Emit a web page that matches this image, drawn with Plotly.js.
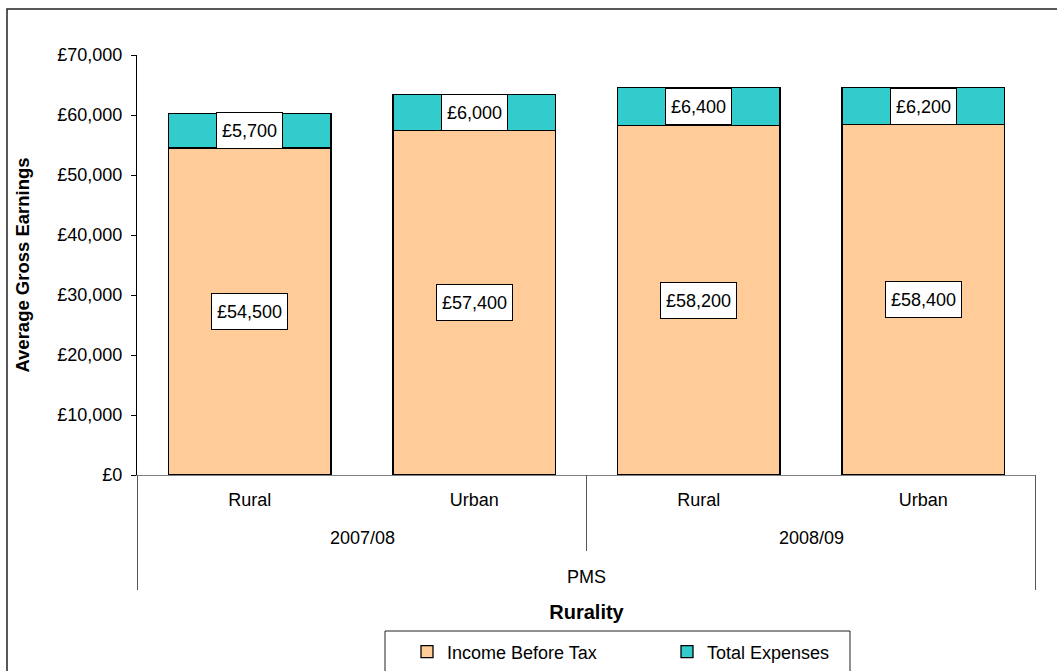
<!DOCTYPE html>
<html>
<head>
<meta charset="utf-8">
<script src="https://cdn.plot.ly/plotly-3.0.1.min.js"></script>
<style>
  html, body { margin: 0; padding: 0; background: #fff; }
  #chart { width: 1057px; height: 671px; }
</style>
</head>
<body>
<div id="chart"></div>
<script>
// ---- data ----
const years = ['2007/08', '2007/08', '2008/09', '2008/09'];
const rurality = ['Rural', 'Urban', 'Rural', 'Urban'];
const incomeBeforeTax = [54500, 57400, 58200, 58400];
const totalExpenses = [5700, 6000, 6400, 6200];
const topLevelLabel = 'PMS';
const seriesNames = ['Income Before Tax', 'Total Expenses'];
const yTickValues = [0, 10000, 20000, 30000, 40000, 50000, 60000, 70000];

// ---- layout geometry (pixels) ----
const W = 1057, H = 671;
const M = { l: 137, r: 21, t: 55, b: 196 };
const plotW = W - M.l - M.r, plotH = H - M.t - M.b;
const px2x = p => (p - M.l) / plotW;
const py2y = p => (H - M.b - p) / plotH;

const FONT = 'Liberation Sans, Arial, sans-serif';
const money = v => '£' + v.toLocaleString('en-GB');

const ids = years.map((y, i) => y + ' ' + rurality[i]);

const traces = [
  {
    type: 'bar', name: seriesNames[0], x: ids, y: incomeBeforeTax,
    marker: { color: '#FFCC99', line: { color: '#000', width: 1.3 } },
    hoverinfo: 'skip'
  },
  {
    type: 'bar', name: seriesNames[1], x: ids, y: totalExpenses,
    marker: { color: '#33CCCC', line: { color: '#000', width: 1.3 } },
    hoverinfo: 'skip'
  }
];

// value labels in white boxes
const annotations = [];
ids.forEach((id, i) => {
  const boxStyle = {
    xref: 'x', yref: 'y', showarrow: false,
    font: { family: FONT, size: 18, color: '#000' },
    bgcolor: '#fff', bordercolor: '#000', borderwidth: 1, borderpad: 5, height: 25
  };
  annotations.push(Object.assign({}, boxStyle, {
    x: id, y: incomeBeforeTax[i] / 2, text: money(incomeBeforeTax[i])
  }));
  annotations.push(Object.assign({}, boxStyle, {
    x: id, y: incomeBeforeTax[i] + totalExpenses[i] / 2, text: money(totalExpenses[i])
  }));
});

// group (year) labels and separators
const groups = [];
years.forEach((y, i) => {
  let g = groups.find(o => o.name === y);
  if (!g) { g = { name: y, idx: [] }; groups.push(g); }
  g.idx.push(i);
});
const shapes = [];
groups.forEach((g, gi) => {
  const c = (g.idx[0] + g.idx[g.idx.length - 1]) / 2;
  annotations.push({
    xref: 'x', yref: 'paper', x: c, y: py2y(538), text: g.name, showarrow: false,
    font: { family: FONT, size: 18, color: '#000' }, yanchor: 'middle'
  });
  if (gi > 0) {
    shapes.push({
      type: 'line', xref: 'x', yref: 'paper', x0: g.idx[0] - 0.5, x1: g.idx[0] - 0.5,
      y0: 0, y1: py2y(551), line: { color: '#555', width: 1 }
    });
  }
});
// outer separators
[-0.5, ids.length - 0.5].forEach(xv => {
  shapes.push({
    type: 'line', xref: 'x', yref: 'paper', x0: xv, x1: xv,
    y0: 0, y1: py2y(590), line: { color: '#555', width: 1 }
  });
});
annotations.push({
  xref: 'x', yref: 'paper', x: (ids.length - 1) / 2, y: py2y(577), text: topLevelLabel,
  showarrow: false, font: { family: FONT, size: 18, color: '#000' }, yanchor: 'middle'
});

// outer chart border
shapes.push({
  type: 'rect', xref: 'paper', yref: 'paper', layer: 'below',
  x0: px2x(7), x1: px2x(1075), y0: py2y(700), y1: py2y(9),
  line: { color: '#222', width: 1.5 }, fillcolor: 'rgba(0,0,0,0)'
});
// legend box
shapes.push({
  type: 'rect', xref: 'paper', yref: 'paper',
  x0: px2x(385), x1: px2x(850), y0: py2y(700), y1: py2y(631),
  line: { color: '#222', width: 1 }, fillcolor: 'rgba(0,0,0,0)'
});

const layout = {
  width: W, height: H,
  margin: M,
  paper_bgcolor: '#fff', plot_bgcolor: '#fff',
  font: { family: FONT, size: 18, color: '#000' },
  barmode: 'stack',
  bargap: 0.275,
  showlegend: true,
  legend: {
    orientation: 'h', traceorder: 'normal',
    xref: 'container', yref: 'container',
    x: 407 / W, xanchor: 'left', y: (H - 652) / H, yanchor: 'middle',
    font: { family: FONT, size: 18, color: '#000' },
    bgcolor: 'rgba(0,0,0,0)', borderwidth: 0,
    entrywidth: 215, entrywidthmode: 'pixels'
  },
  xaxis: {
    type: 'category',
    tickvals: ids, ticktext: rurality,
    showline: true, linecolor: '#808080', linewidth: 1,
    ticks: '', showgrid: false, zeroline: false,
    tickfont: { family: FONT, size: 18, color: '#000' },
    ticklabelstandoff: 8,
    automargin: false,
    title: { text: 'Rurality', font: { family: FONT, size: 20, color: '#000', weight: 'bold' }, standoff: 96 }
  },
  yaxis: {
    range: [0, 70000],
    tickvals: yTickValues,
    ticktext: yTickValues.map(money),
    showline: true, linecolor: '#000', linewidth: 1,
    ticks: 'outside', ticklen: 5, tickcolor: '#000',
    showgrid: false, zeroline: false,
    tickfont: { family: FONT, size: 18, color: '#000' },
    ticklabelstandoff: 5,
    automargin: false,
    title: { text: 'Average Gross Earnings', font: { family: FONT, size: 18.5, color: '#000', weight: 'bold' }, standoff: 22 }
  },
  annotations: annotations,
  shapes: shapes
};

Plotly.newPlot('chart', traces, layout, { staticPlot: true, displayModeBar: false });
</script>
</body>
</html>
